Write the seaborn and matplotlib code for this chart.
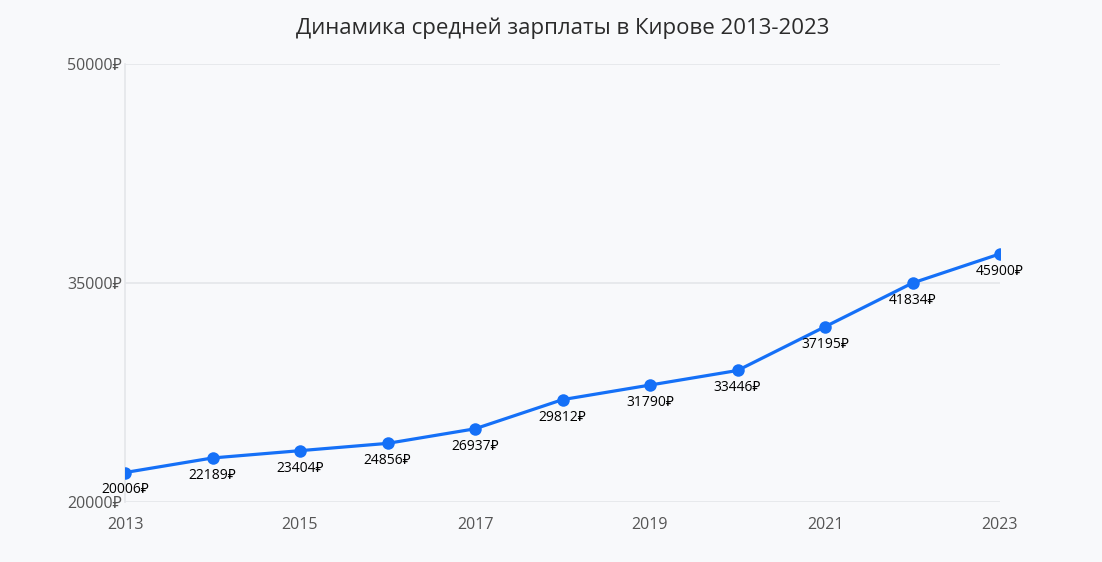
import matplotlib
matplotlib.use("Agg")
import matplotlib.pyplot as plt
import seaborn as sns
import pandas as pd

years = [2013, 2014, 2015, 2016, 2017, 2018, 2019, 2020, 2021, 2022, 2023]
plotted = [22000, 23000, 23500, 24000, 25000, 27000, 28000, 29000, 32000, 35000, 37000]
label_values = [20006, 22189, 23404, 24856, 26937, 29812, 31790, 33446, 37195, 41834, 45900]
y_ticks = [20000, 35000, 50000]
x_ticks = [2013, 2015, 2017, 2019, 2021, 2023]
title = "Динамика средней зарплаты в Кирове 2013-2023"

sns.set_theme(style="white")
fams = ['Open Sans', 'Noto Sans', 'DejaVu Sans']
plt.rcParams['font.family'] = fams

bg = '#f8f9fb'
fig = plt.figure(figsize=(11.02, 5.62), dpi=100, facecolor=bg)
ax = fig.add_axes([125/1102, (562-501.7)/562, 875/1102, (501.7-64.3)/562])
ax.set_facecolor(bg)

df = pd.DataFrame({"year": years, "value": plotted})
sns.lineplot(data=df, x="year", y="value", ax=ax, color='#1570f7', linewidth=2.3,
             marker='o', markersize=9, markeredgewidth=0, zorder=3)

for x, y, lab in zip(years, plotted, label_values):
    ax.annotate(f"{lab}₽", (x, y), xytext=(0, -12.5), textcoords='offset points',
                ha='center', va='center', fontsize=10, color='#000000',
                family=fams, zorder=4)

ax.set_xlim(2013, 2023)
ax.set_ylim(20000, 50000)
ax.set_yticks(y_ticks)
ax.set_yticklabels([f"{v}₽" for v in y_ticks])
ax.set_xticks(x_ticks)
ax.set_xticklabels([str(v) for v in x_ticks])
ax.tick_params(axis='y', length=0, pad=2, labelsize=11.5, labelcolor='#555555')
ax.tick_params(axis='x', length=0, pad=11, labelsize=11.5, labelcolor='#555555')
ax.grid(axis='y', color='#e4e6ea', linewidth=1.2)
ax.grid(axis='x', visible=False)
for s in ['top', 'right', 'bottom']:
    ax.spines[s].set_visible(False)
ax.spines['left'].set_color('#e4e6ea')
ax.spines['left'].set_linewidth(1.2)
ax.set_xlabel('')
ax.set_ylabel('')

fig.text((125+1000)/2/1102, 1 - 28/562, title, ha='center', va='center',
         fontsize=16, color='#2b2b2b')

fig.savefig("out.png", dpi=100, facecolor=bg)
